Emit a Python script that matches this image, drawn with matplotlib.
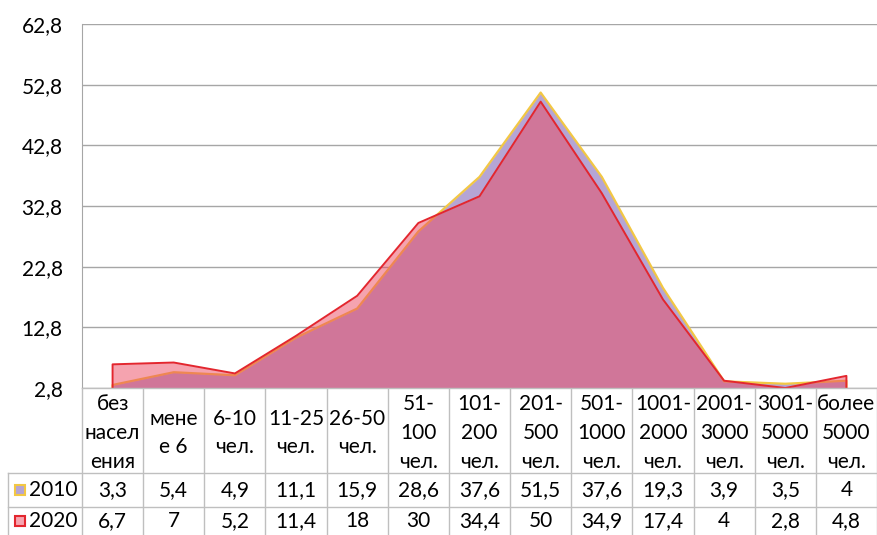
"""Area chart of settlements by population size, 2010 vs 2020, with data table."""
import matplotlib
matplotlib.use("Agg")
import matplotlib.pyplot as plt
from matplotlib.transforms import blended_transform_factory
from matplotlib.patches import Rectangle

categories = [
    "без\nнасел\nения", "мене\nе 6", "6-10\nчел.", "11-25\nчел.", "26-50\nчел.",
    "51-\n100\nчел.", "101-\n200\nчел.", "201-\n500\nчел.", "501-\n1000\nчел.",
    "1001-\n2000\nчел.", "2001-\n3000\nчел.", "3001-\n5000\nчел.", "более\n5000\nчел.",
]
values_2010 = [3.3, 5.4, 4.9, 11.1, 15.9, 28.6, 37.6, 51.5, 37.6, 19.3, 3.9, 3.5, 4]
values_2020 = [6.7, 7, 5.2, 11.4, 18, 30, 34.4, 50, 34.9, 17.4, 4, 2.8, 4.8]
labels_2010 = ["3,3", "5,4", "4,9", "11,1", "15,9", "28,6", "37,6", "51,5", "37,6",
               "19,3", "3,9", "3,5", "4"]
labels_2020 = ["6,7", "7", "5,2", "11,4", "18", "30", "34,4", "50", "34,9",
               "17,4", "4", "2,8", "4,8"]
y_ticks = [2.8, 12.8, 22.8, 32.8, 42.8, 52.8, 62.8]

W, H = 877, 535
plt.rcParams["font.family"] = ["Lato", "DejaVu Sans"]
FS = 15
GRID = "#A6A6A6"
TABLE = "#BFBFBF"
LAV = "#B5A5D4"
GOLD = "#F2C744"
PINK = "#EC4860"
RED = "#E3262E"


def fy(p):
    return 1 - p / H


def fx(p):
    return p / W


fig = plt.figure(figsize=(W / 100, H / 100), dpi=100)
ax = fig.add_axes([fx(82), fy(388), fx(877 - 82), (388 - 24) / H])
x = list(range(len(categories)))
base = y_ticks[0]

ax.fill_between(x, base, values_2010, color=LAV, zorder=2, linewidth=0)
ax.plot([x[0]] + x + [x[-1]], [base] + values_2010 + [base], color=GOLD, lw=1.6, zorder=3)
ax.fill_between(x, base, values_2020, color=PINK, alpha=0.5, zorder=4, linewidth=0)
ax.plot([x[0]] + x + [x[-1]], [base] + values_2020 + [base], color=RED, lw=1.4, zorder=5)

ax.set_xlim(-0.5, len(categories) - 0.5)
ax.set_ylim(y_ticks[0], y_ticks[-1])
ax.set_yticks(y_ticks)
ax.set_yticklabels([f"{t:.1f}".replace(".", ",") for t in y_ticks], fontsize=FS)
ax.set_xticks([])
ax.tick_params(axis="y", length=0, pad=14)
ax.grid(axis="y", color=GRID, lw=1, zorder=1)
for s in ["top", "right", "bottom"]:
    ax.spines[s].set_visible(False)
ax.spines["left"].set_color(GRID)

# data table under the plot
tr = blended_transform_factory(ax.transData, fig.transFigure)
ftr = fig.transFigure
for i, lab in enumerate(categories):
    ax.text(i, fy(433), lab, transform=tr, ha="center", va="center",
            fontsize=FS, linespacing=1.55)
    ax.text(i, fy(490), labels_2010[i], transform=tr, ha="center", va="center", fontsize=FS)
    ax.text(i, fy(521), labels_2020[i], transform=tr, ha="center", va="center", fontsize=FS)
for i in range(len(categories) + 1):
    ax.plot([i - 0.5, i - 0.5], [fy(388), fy(535)], transform=tr, color=TABLE,
            lw=1, clip_on=False)
fig.add_artist(plt.Line2D([fx(82), 1], [fy(388), fy(388)], color=TABLE, lw=1))
for yy in (473, 507):
    fig.add_artist(plt.Line2D([fx(8), 1], [fy(yy), fy(yy)], color=TABLE, lw=1))
fig.add_artist(plt.Line2D([fx(8), fx(8)], [fy(473), fy(535)], color=TABLE, lw=1))

for yc, face, edge, name in ((490, LAV, GOLD, "2010"), (521, "#F6A5B0", RED, "2020")):
    fig.add_artist(Rectangle((fx(15), fy(yc + 5)), fx(10), 10 / H, transform=ftr,
                             facecolor=face, edgecolor=edge, lw=1.5))
    fig.text(fx(29), fy(yc), name, ha="left", va="center", fontsize=FS)

fig.savefig("out.png", dpi=100)
